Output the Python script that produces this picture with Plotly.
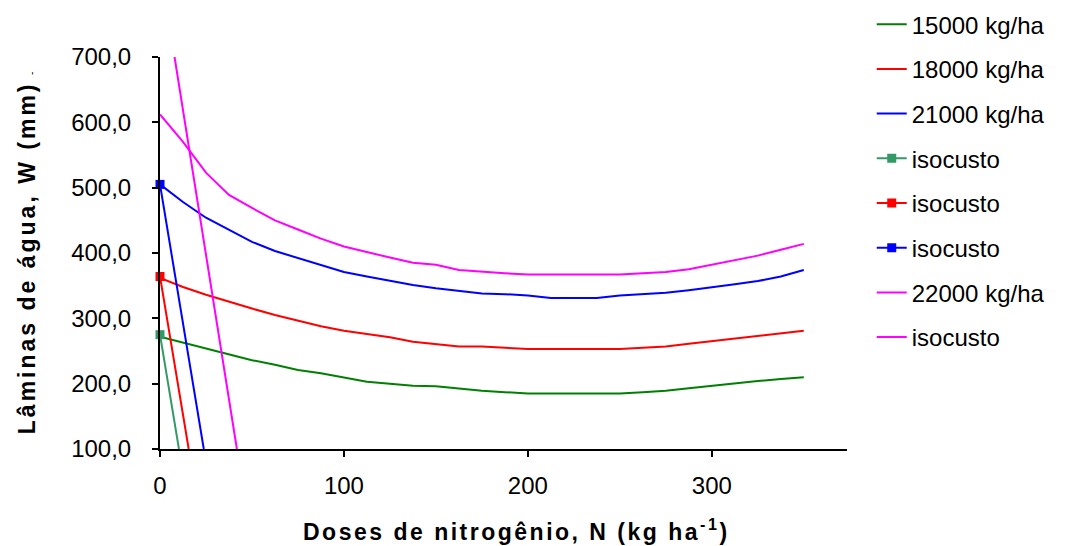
import plotly.graph_objects as go

N = [0, 12.5, 25, 37.5, 50, 62.5, 75, 87.5, 100, 112.5, 125, 137.5, 150, 162.5, 175,
     187.5, 200, 212.5, 225, 237.5, 250, 262.5, 275, 287.5, 300, 312.5, 325, 337.5, 350]

w15000 = [272, 263, 255, 245, 236, 229, 221, 216, 210, 203, 200, 197, 196, 192, 189,
          187, 185, 185, 185, 185, 185, 187, 189, 193, 197, 200, 204, 207, 210]
w18000 = [362, 348, 336, 325, 315, 305, 296, 288, 281, 276, 271, 264, 260, 257, 257,
          255, 253, 253, 253, 253, 253, 255, 257, 261, 265, 268, 272, 277, 281]
w21000 = [505, 478, 454, 435, 417, 403, 392, 381, 371, 364, 357, 351, 346, 342, 338,
          337, 335, 331, 331, 331, 335, 337, 339, 343, 347, 352, 357, 364, 374]
w22000 = [612, 570, 523, 489, 469, 450, 436, 422, 410, 401, 393, 385, 382, 374, 371,
          369, 367, 367, 367, 367, 367, 369, 371, 375, 382, 389, 396, 405, 414]

iso15_N, iso15_W = [0, 10.3], [275, 100]
iso18_N, iso18_W = [0, 15.6], [364, 100]
iso21_N, iso21_W = [0, 23.8], [505, 100]
iso22_N, iso22_W = [0, 41.8], [840, 100]

x_ticks = [0, 100, 200, 300]
y_ticks = [100, 200, 300, 400, 500, 600, 700]

fig = go.Figure()

def line(x, y, name, color, marker=False):
    kw = dict(x=x, y=y, name=name, legendgroup=name + color,
              line=dict(color=color, width=2), cliponaxis=False)
    if marker:
        kw["mode"] = "lines+markers"
        kw["marker"] = dict(symbol="square", size=9,
                            color=[color, "rgba(0,0,0,0)"], line=dict(width=0))
    else:
        kw["mode"] = "lines"
    fig.add_trace(go.Scatter(**kw))

line(N, w15000, "15000 kg/ha", "#008000")
line(N, w18000, "18000 kg/ha", "#FF0000")
line(N, w21000, "21000 kg/ha", "#0000FF")
line(iso15_N, iso15_W, "isocusto", "#339966", marker=True)
line(iso18_N, iso18_W, "isocusto", "#FF0000", marker=True)
line(iso21_N, iso21_W, "isocusto", "#0000FF", marker=True)
line(N, w22000, "22000 kg/ha", "#FF00FF")
fig.add_trace(go.Scatter(x=iso22_N, y=iso22_W, name="isocusto", legendgroup="iso22",
                         mode="lines", line=dict(color="#FF00FF", width=2)))

font = "Liberation Sans, Arial, sans-serif"
fig.update_layout(
    width=1057, height=538,
    margin=dict(l=152, r=218, t=49, b=97, autoexpand=False),
    paper_bgcolor="white", plot_bgcolor="white",
    separators=",.",
    font=dict(family=font, size=22, color="black"),
    showlegend=True,
    legend=dict(x=1.036, y=1.14, xanchor="left", yanchor="top", maxheight=600,
                font=dict(size=24), tracegroupgap=10.5, bgcolor="rgba(0,0,0,0)"),
    xaxis=dict(range=[0, 373.5], tickvals=x_ticks, showgrid=False, zeroline=False,
               showline=True, linecolor="black", linewidth=2, automargin=False,
               ticks="outside", ticklen=6, tickwidth=2, tickcolor="black",
               tickfont=dict(size=24), ticklabelstandoff=8,
               title=dict(text="&nbsp;&nbsp;&nbsp;&nbsp;<b><span style='letter-spacing:2.5px'>Doses de nitrogênio, N (kg ha<sup>-1</sup>)</span></b>",
                          font=dict(size=23), standoff=26)),
    yaxis=dict(range=[100, 700], tickvals=y_ticks, tickformat=".1f", showgrid=False,
               zeroline=False, showline=True, linecolor="black", linewidth=2,
               automargin=False,
               ticks="outside", ticklen=6, tickwidth=2, tickcolor="black",
               tickfont=dict(size=24), ticklabelstandoff=16,
               title=dict(text="<b><span style='letter-spacing:3px'>Lâminas de água, W (mm)</span></b> <span style='font-size:10px'>-</span>",
                          font=dict(size=23), standoff=29)),
)

fig.write_html("out.html")
